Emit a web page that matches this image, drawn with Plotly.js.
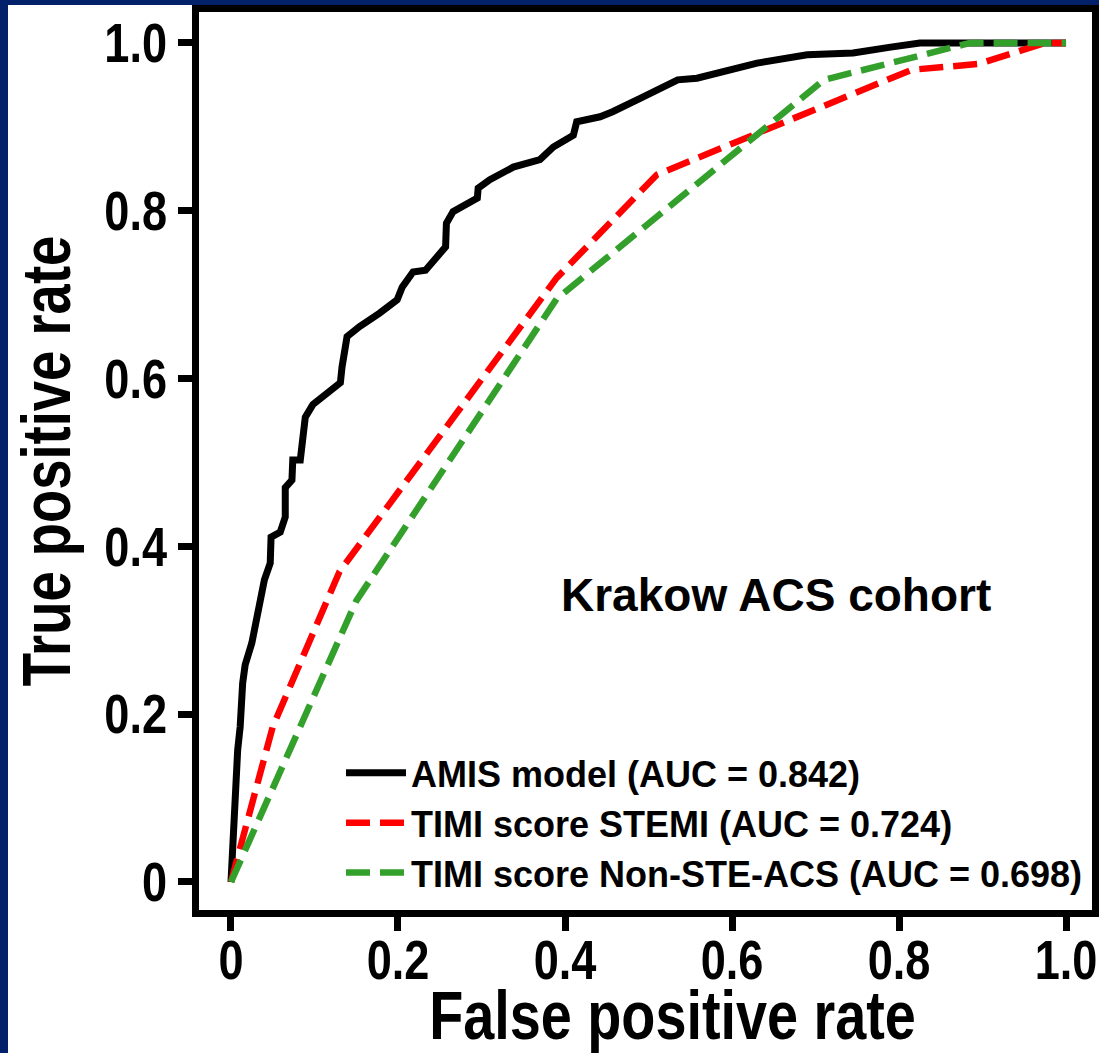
<!DOCTYPE html>
<html>
<head>
<meta charset="utf-8">
<script src="https://cdn.plot.ly/plotly-3.0.1.min.js"></script>
<style>
  html, body { margin: 0; padding: 0; background: #ffffff; }
  #frame { position: absolute; left: 0; top: 0; width: 1091px; height: 1048px;
           border-left: 8px solid #03216b; border-top: 5px solid #03216b; background: #ffffff; }
  #chart { width: 1091px; height: 1048px; }
</style>
</head>
<body>
<div id="frame"><div id="chart"></div></div>
<script>
// ---- data ----
const amisFPR = [0, 0.002, 0.005, 0.008, 0.011, 0.014, 0.017, 0.025, 0.031, 0.035, 0.040, 0.047, 0.048, 0.059, 0.065, 0.065, 0.073, 0.074, 0.083, 0.089, 0.098, 0.131, 0.133, 0.139, 0.154, 0.178, 0.199, 0.205, 0.218, 0.233, 0.257, 0.258, 0.266, 0.295, 0.296, 0.310, 0.338, 0.370, 0.386, 0.410, 0.414, 0.442, 0.457, 0.490, 0.510, 0.535, 0.558, 0.630, 0.690, 0.745, 0.790, 0.825, 1.0];
const amisTPR = [0, 0.058, 0.098, 0.157, 0.185, 0.237, 0.259, 0.285, 0.316, 0.336, 0.360, 0.380, 0.411, 0.417, 0.435, 0.470, 0.479, 0.503, 0.503, 0.554, 0.569, 0.595, 0.614, 0.650, 0.662, 0.678, 0.694, 0.709, 0.727, 0.729, 0.757, 0.785, 0.799, 0.815, 0.827, 0.837, 0.852, 0.861, 0.876, 0.890, 0.906, 0.912, 0.918, 0.934, 0.944, 0.956, 0.958, 0.976, 0.986, 0.988, 0.995, 1.0, 1.0];

const stemiFPR = [0, 0.05, 0.13, 0.39, 0.51, 0.815, 0.895, 0.975, 1.0];
const stemiTPR = [0, 0.185, 0.37, 0.72, 0.843, 0.968, 0.975, 1.0, 1.0];

const nsteFPR = [0, 0.15, 0.39, 0.71, 0.885, 1.0];
const nsteTPR = [0, 0.335, 0.695, 0.956, 1.0, 1.0];

const seriesNames = ["AMIS model (AUC = 0.842)", "TIMI score STEMI (AUC = 0.724)", "TIMI score Non-STE-ACS (AUC = 0.698)"];
const tickVals = [0, 0.2, 0.4, 0.6, 0.8, 1.0];
const tickText = ["0", "0.2", "0.4", "0.6", "0.8", "1.0"];
const xTitle = "False positive rate";
const yTitle = "True positive rate";
const cohortLabel = "Krakow ACS cohort";

const sans = "'Liberation Sans', Arial, sans-serif";

const traces = [
  { x: amisFPR, y: amisTPR, name: seriesNames[0], mode: "lines",
    line: { color: "#000000", width: 7 } },
  { x: stemiFPR, y: stemiTPR, name: seriesNames[1], mode: "lines",
    line: { color: "#ff0000", width: 6.5, dash: "24px,10px" } },
  { x: nsteFPR, y: nsteTPR, name: seriesNames[2], mode: "lines",
    line: { color: "#33a02c", width: 6.5, dash: "24px,10px" } }
];

const axisCommon = {
  showgrid: false, zeroline: false,
  showline: true, linecolor: "#000000", linewidth: 7, mirror: true,
  ticks: "outside", ticklen: 14, tickwidth: 7, tickcolor: "#000000",
  tickvals: tickVals, ticktext: tickText,
  tickfont: { family: sans, size: 55, color: "#000000", weight: "bold" }
};

const layout = {
  width: 1091, height: 1048,
  margin: { l: 191, r: 7, t: 7, b: 143 },
  paper_bgcolor: "#ffffff", plot_bgcolor: "#ffffff",
  showlegend: true,
  legend: {
    x: 0.159, y: 0.186, xanchor: "left", yanchor: "top",
    itemwidth: 60,
    bgcolor: "rgba(0,0,0,0)", borderwidth: 0,
    font: { family: sans, size: 36, color: "#000000", weight: "bold" }
  },
  xaxis: Object.assign({}, axisCommon, {
    range: [-0.0383, 1.0311], automargin: false,
    ticklabelstandoff: -18, ticklabeloverflow: "allow",
    title: { text: xTitle, standoff: 28,
             font: { family: sans, size: 68, color: "#000000", weight: "bold" } }
  }),
  yaxis: Object.assign({}, axisCommon, {
    range: [-0.0334, 1.0369], automargin: false,
    title: { text: yTitle, standoff: 10,
             font: { family: sans, size: 68, color: "#000000", weight: "bold" } }
  }),
  annotations: [{
    text: cohortLabel, xref: "x", yref: "y", x: 0.653, y: 0.342,
    showarrow: false, xanchor: "center", yanchor: "middle",
    font: { family: sans, size: 46, color: "#000000", weight: "bold" }
  }]
};

// condensed look of the original's axis lettering
function condense(gd) {
  const groups = [
    [".xtick text, .ytick text", 0.82],
    [".g-xtitle text", 0.82],
    [".g-ytitle text", 0.80]
  ];
  groups.forEach(([sel, f]) => {
    gd.querySelectorAll(sel).forEach(t => {
      const len = t.getComputedTextLength();
      t.setAttribute("textLength", (len * f).toFixed(1));
      t.setAttribute("lengthAdjust", "spacingAndGlyphs");
    });
  });
  // the original's x title sits a little right of the axis centre
  gd.querySelectorAll(".g-xtitle text").forEach(t => {
    t.setAttribute("x", (parseFloat(t.getAttribute("x")) + 27).toFixed(1));
  });
}

Plotly.newPlot("chart", traces, layout, { displayModeBar: false, staticPlot: true })
  .then(condense);
</script>
</body>
</html>
